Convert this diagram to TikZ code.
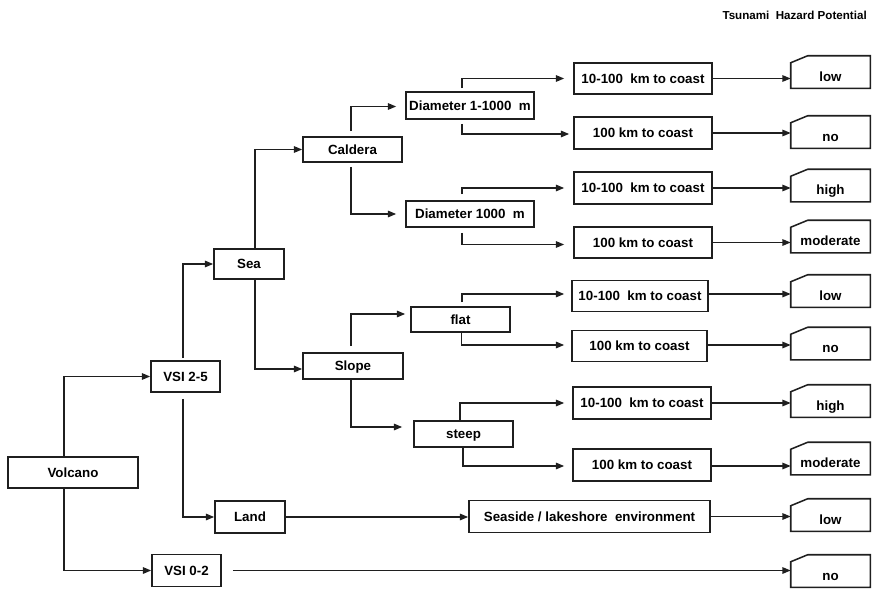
\documentclass[tikz,border=0pt]{standalone}
\usepackage{fontspec}
\setmainfont{Liberation Sans}
\usetikzlibrary{arrows.meta}
\def\pu{*0.75pt}
\tikzset{
  ln/.style={line width=1.15pt, draw=black!88},
  arr/.style={ln, -{Triangle[length=6.2pt,width=4.8pt]}},
  bx/.style={ln, rectangle, inner sep=0pt, font=\bfseries\fontsize{10pt}{12pt}\selectfont, text height=7.2pt, text depth=0pt},
  res/.style={rectangle, inner sep=0pt, minimum width=79\pu, minimum height=32\pu, font=\bfseries\fontsize{10pt}{12pt}\selectfont, text height=14pt, text depth=0pt},
  sz/.style 2 args={minimum width=#1\pu, minimum height=#2\pu},
}
\begin{document}
\begin{tikzpicture}[x=0.75pt, y=-0.75pt]
\useasboundingbox (0,0) rectangle (876,589);
% title
\node[anchor=east, font=\bfseries\fontsize{8.7pt}{10pt}\selectfont, inner sep=0pt] (title) at (867,15) {Tsunami~ Hazard Potential};
% left part
\node[bx, sz={130}{31}] (volc) at (73,472.5) {Volcano};
\node[bx, sz={69}{31}] (vsi25) at (185.5,376.5) {VSI 2-5};
\node[bx, sz={69}{32}] (vsi02) at (186.5,570.5) {VSI 0-2};
\node[bx, sz={70}{30}] (sea) at (249,264) {Sea};
\node[bx, sz={70}{32}] (land) at (250,517) {Land};
\node[bx, sz={99}{25}] (cald) at (352.5,149.5) {Caldera};
\node[bx, sz={100}{26}] (slope) at (353,366) {Slope};
\node[bx, sz={128}{27}] (dia1) at (470,105.5) {Diameter 1-1000~ m};
\node[bx, sz={128}{26}] (dia2) at (470,214) {Diameter 1000~ m};
\node[bx, sz={99}{25}] (flat) at (460.5,319.5) {flat};
\node[bx, sz={99}{26}] (steep) at (463.5,434) {steep};
% distance boxes
\node[bx, sz={138}{31}] (m1) at (643,78.5) {10-100~ km to coast};
\node[bx, sz={138}{32}] (m2) at (643,133) {100 km to coast};
\node[bx, sz={138}{32}] (m3) at (643,188) {10-100~ km to coast};
\node[bx, sz={138}{31}] (m4) at (643,242.5) {100 km to coast};
\node[bx, sz={136}{31}] (m5) at (640,296) {10-100~ km to coast};
\node[bx, sz={135}{31}] (m6) at (639.5,346) {100 km to coast};
\node[bx, sz={138}{32}] (m7) at (642,403) {10-100~ km to coast};
\node[bx, sz={138}{32}] (m8) at (642,465) {100 km to coast};
\node[bx, sz={241}{32}] (seaside) at (589.5,516.5) {Seaside / lakeshore~ environment};
% result boxes
\node[res] (r1) at (830.5,72) {low};
\node[res] (r2) at (830.5,132) {no};
\node[res] (r3) at (830.5,185.5) {high};
\node[res] (r4) at (830.5,236.5) {moderate};
\node[res] (r5) at (830.5,291) {low};
\node[res] (r6) at (830.5,343.5) {no};
\node[res] (r7) at (830.5,401) {high};
\node[res] (r8) at (830.5,458.5) {moderate};
\node[res] (r9) at (830.5,515) {low};
\node[res] (r10) at (830.5,571) {no};
\foreach \r in {r1,r2,r3,r4,r5,r6,r7,r8,r9,r10}
  \draw[ln] (\r.south west) -- ([yshift=-7\pu]\r.north west) -- ([xshift=17\pu]\r.north west) -- (\r.north east) -- (\r.south east) -- cycle;
% connectors
\draw[arr] ([xshift=-9\pu]volc.north) |- (vsi25.west);
\draw[arr] ([xshift=-9\pu]volc.south) |- (vsi02.west);
\draw[arr] ([xshift=-2.5\pu,yshift=2\pu]vsi25.north) |- (sea.west);
\draw[arr] ([xshift=-2.5\pu,yshift=-6\pu]vsi25.south) |- (land.west);
\draw[arr] ([xshift=11\pu]vsi02.east) -- (vsi02.east -| r10.west);
\draw[arr] (land.east) -- (land.east -| seaside.west);
\draw[arr] (seaside.east) -- (seaside.east -| r9.west);
\draw[arr] ([xshift=6\pu]sea.north) |- (cald.west);
\draw[arr] ([xshift=6\pu]sea.south) |- ([yshift=-3\pu]slope.west);
\draw[arr] ([xshift=-1.5\pu,yshift=5\pu]cald.north) |- ([xshift=-9\pu,yshift=-1\pu]dia1.west);
\draw[arr] ([xshift=-1.5\pu,yshift=-4\pu]cald.south) |- ([xshift=-9\pu]dia2.west);
\draw[arr] ([xshift=-8\pu,yshift=3\pu]dia1.north) |- ([xshift=-9\pu]m1.west);
\draw[arr] ([xshift=-8\pu,yshift=-4\pu]dia1.south) |- ([xshift=-4\pu,yshift=-1\pu]m2.west);
\draw[arr] ([xshift=-8\pu,yshift=6\pu]dia2.north) |- ([xshift=-9\pu]m3.west);
\draw[arr] ([xshift=-8\pu,yshift=-5\pu]dia2.south) |- ([xshift=-9\pu,yshift=-2\pu]m4.west);
\draw[arr] ([xshift=-2\pu,yshift=6\pu]slope.north) |- ([xshift=-5\pu,yshift=5.5\pu]flat.west);
\draw[arr] ([xshift=-2\pu]slope.south) |- ([xshift=-11\pu,yshift=7\pu]steep.west);
\draw[arr] ([xshift=1.5\pu,yshift=4\pu]flat.north) |- ([xshift=-7\pu,yshift=2\pu]m5.west);
\draw[arr] ([xshift=1\pu]flat.south) |- ([xshift=-7\pu,yshift=1\pu]m6.west);
\draw[arr] ([xshift=-3.5\pu]steep.north) |- ([xshift=-8\pu]m7.west);
\draw[arr] ([xshift=-0.5\pu]steep.south) |- ([xshift=-8\pu,yshift=-1\pu]m8.west);
\draw[arr] (m1.east) -- (m1.east -| r1.west);
\draw[arr] (m2.east) -- (m2.east -| r2.west);
\draw[arr] (m3.east) -- (m3.east -| r3.west);
\draw[arr] (m4.east) -- (m4.east -| r4.west);
\draw[arr] ([yshift=2\pu]m5.east) -- ([yshift=2\pu]m5.east -| r5.west);
\draw[arr] ([yshift=1\pu]m6.east) -- ([yshift=1\pu]m6.east -| r6.west);
\draw[arr] (m7.east) -- (m7.east -| r7.west);
\draw[arr] ([yshift=-1\pu]m8.east) -- ([yshift=-1\pu]m8.east -| r8.west);
\end{tikzpicture}
\end{document}
